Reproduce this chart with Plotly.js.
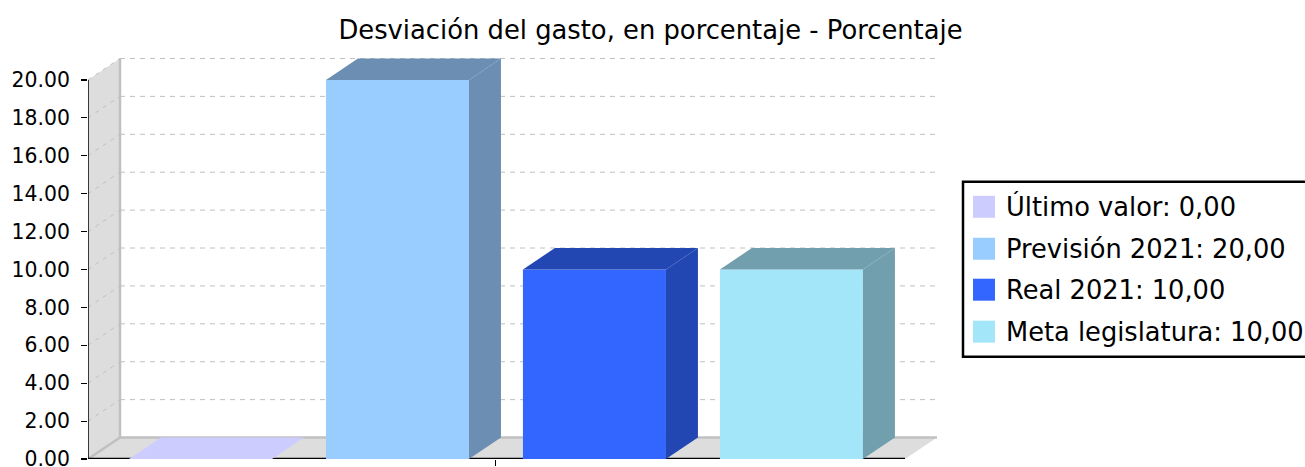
<!DOCTYPE html>
<html>
<head>
<meta charset="utf-8">
<script src="https://cdn.plot.ly/plotly-3.0.1.min.js"></script>
<style>html,body{margin:0;padding:0;background:#fff;overflow:hidden}#chart{width:1305px;height:467px}</style>
</head>
<body>
<div id="chart"></div>
<script>
const chartTitle = "Desviación del gasto, en porcentaje - Porcentaje";
const seriesNames = ["Último valor", "Previsión 2021", "Real 2021", "Meta legislatura"];
const seriesValues = [0, 20, 10, 10];
const seriesColors = ["#CCCCFF", "#99CCFF", "#3366FF", "#A3E5F9"];
const shadeColors = ["#8F8FB2", "#6B8EB2", "#2347B2", "#729FAE"];
const yTicks = [0, 2, 4, 6, 8, 10, 12, 14, 16, 18, 20];

const FONT = "'DejaVu Sans', sans-serif";
const W = 1305, H = 467;
const plotL = 88, plotR = 940, plotT = 55, plotB = 459.5;
const xMin = -0.571, xMax = 3.739 + 3 / 197, yMax = 21.106 + 4 / 18.975;
const depthX = 0.1624, depthY = 1.133, barWidth = 0.726;
const backTop = 20 + depthY, xBack = xMin + depthX, xBackEnd = 3.739, frontRight = xBackEnd - depthX;
const wallColor = "#DDDDDD", edgeColor = "#C0C0C0", gridColor = "#C0C0C0";

const dataLine = (xs, ys, color, width, dash) => ({
  type: "path", xref: "x", yref: "y", layer: "below",
  path: xs.map((x, i) => (i ? "L" : "M") + x + "," + ys[i]).join(" "),
  line: {color, width, dash: dash || "solid"}
});
const dataPoly = (xs, ys, fill) => ({
  type: "path", xref: "x", yref: "y", layer: "below",
  path: xs.map((x, i) => (i ? "L" : "M") + x + "," + ys[i]).join(" ") + " Z",
  fillcolor: fill, line: {width: 0}
});

const shapes = [];
// side wall and floor
shapes.push(dataPoly([xMin, xBack, xBack, xMin], [0, depthY, backTop, 20], wallColor));
shapes.push(dataPoly([xMin, frontRight, xBackEnd, xBack], [0, 0, depthY, depthY], wallColor));
// grid lines on wall and back
yTicks.forEach(v => {
  if (v > 0) shapes.push(dataLine([xMin, xBack], [v, v + depthY], gridColor, 1, "4px,5px"));
  if (v > 0) shapes.push(dataLine([xBack, xBackEnd], [v + depthY, v + depthY], gridColor, 1, "5px,5px"));
});
// wall edges
shapes.push(dataLine([xMin, xBack], [0, depthY], edgeColor, 2.5));
shapes.push(dataLine([xBack, xBack], [depthY, backTop], edgeColor, 2.5));
shapes.push(dataLine([xBack, xBackEnd], [depthY, depthY], edgeColor, 2.5));
// category axis line
shapes.push(dataLine([xMin, frontRight], [0.03, 0.03], "#000000", 1.5));

const traces = [];
seriesNames.forEach((name, i) => {
  const v = seriesValues[i];
  traces.push({
    type: "bar", name, x: [i], y: [v], width: barWidth,
    marker: {color: seriesColors[i], line: {width: 0}},
    showlegend: false, hoverinfo: "name+y"
  });
});
seriesNames.forEach((name, i) => {
  const v = seriesValues[i], x0 = i - barWidth / 2, x1 = i + barWidth / 2;
  traces.push({
    type: "scatter", mode: "lines", fill: "toself", showlegend: false, hoverinfo: "skip",
    x: [x0, x1, x1 + depthX, x0 + depthX, x0],
    y: [v, v, v + depthY, v + depthY, v],
    line: {width: 0}, fillcolor: v === 0 ? seriesColors[i] : shadeColors[i]
  });
  if (v > 0) traces.push({
    type: "scatter", mode: "lines", fill: "toself", showlegend: false, hoverinfo: "skip",
    x: [x1, x1 + depthX, x1 + depthX, x1, x1],
    y: [0, depthY, v + depthY, v, 0],
    line: {width: 0}, fillcolor: shadeColors[i]
  });
});
// value axis line, unclipped
traces.push({type: "scatter", mode: "lines", x: [xMin, xMin], y: [0, 20], cliponaxis: false,
  line: {color: "#000000", width: 1.5}, showlegend: false, hoverinfo: "skip"});

// legend box, placed in page pixels
const px = x => (x - plotL) / (plotR - plotL), py = y => (plotB - y) / (plotB - plotT);
const rowY = [207, 249, 290, 332];
shapes.push({type: "rect", xref: "paper", yref: "paper", x0: px(963), x1: px(1320), y0: py(182), y1: py(357),
  line: {color: "#000000", width: 2.5}, fillcolor: "#FFFFFF", layer: "above"});
const annotations = [];
seriesNames.forEach((name, i) => {
  shapes.push({type: "rect", xref: "paper", yref: "paper", x0: px(973), x1: px(995),
    y0: py(rowY[i] - 11), y1: py(rowY[i] + 11), fillcolor: seriesColors[i], line: {width: 0}, layer: "above"});
  annotations.push({xref: "paper", yref: "paper", x: px(1005), y: py(rowY[i]), xanchor: "left", yanchor: "middle",
    showarrow: false, borderpad: 0, text: name + ": " + seriesValues[i].toFixed(2).replace(".", ","),
    font: {family: FONT, size: 25.7, color: "#000000"}});
});

const layout = {
  width: W, height: H, autosize: false,
  margin: {l: plotL, r: W - plotR, t: plotT, b: H - plotB, pad: 0},
  paper_bgcolor: "#FFFFFF", plot_bgcolor: "#FFFFFF",
  title: {text: chartTitle, x: 650.5 / W, xref: "container", xanchor: "center", y: 1 - 30 / H, yref: "container", yanchor: "middle",
    font: {family: FONT, size: 25.8, color: "#000000"}},
  barmode: "overlay", showlegend: false,
  xaxis: {range: [xMin, xMax], showgrid: false, zeroline: false, showline: false,
    tickmode: "array", tickvals: [1.5], ticktext: [" "], ticks: "outside", ticklen: 6, tickwidth: 1, tickcolor: "#000000"},
  yaxis: {range: [0, yMax], showgrid: false, zeroline: false, showline: false,
    tickmode: "array", tickvals: yTicks, ticktext: yTicks.map(v => v.toFixed(2)),
    ticks: "outside", ticklen: 6, tickwidth: 1.2, tickcolor: "#000000", ticklabelstandoff: 7, ticklabeloverflow: "allow",
    tickfont: {family: FONT, size: 20.4, color: "#000000"}},
  shapes, annotations
};
Plotly.newPlot("chart", traces, layout, {displayModeBar: false, staticPlot: true});
</script>
</body>
</html>
